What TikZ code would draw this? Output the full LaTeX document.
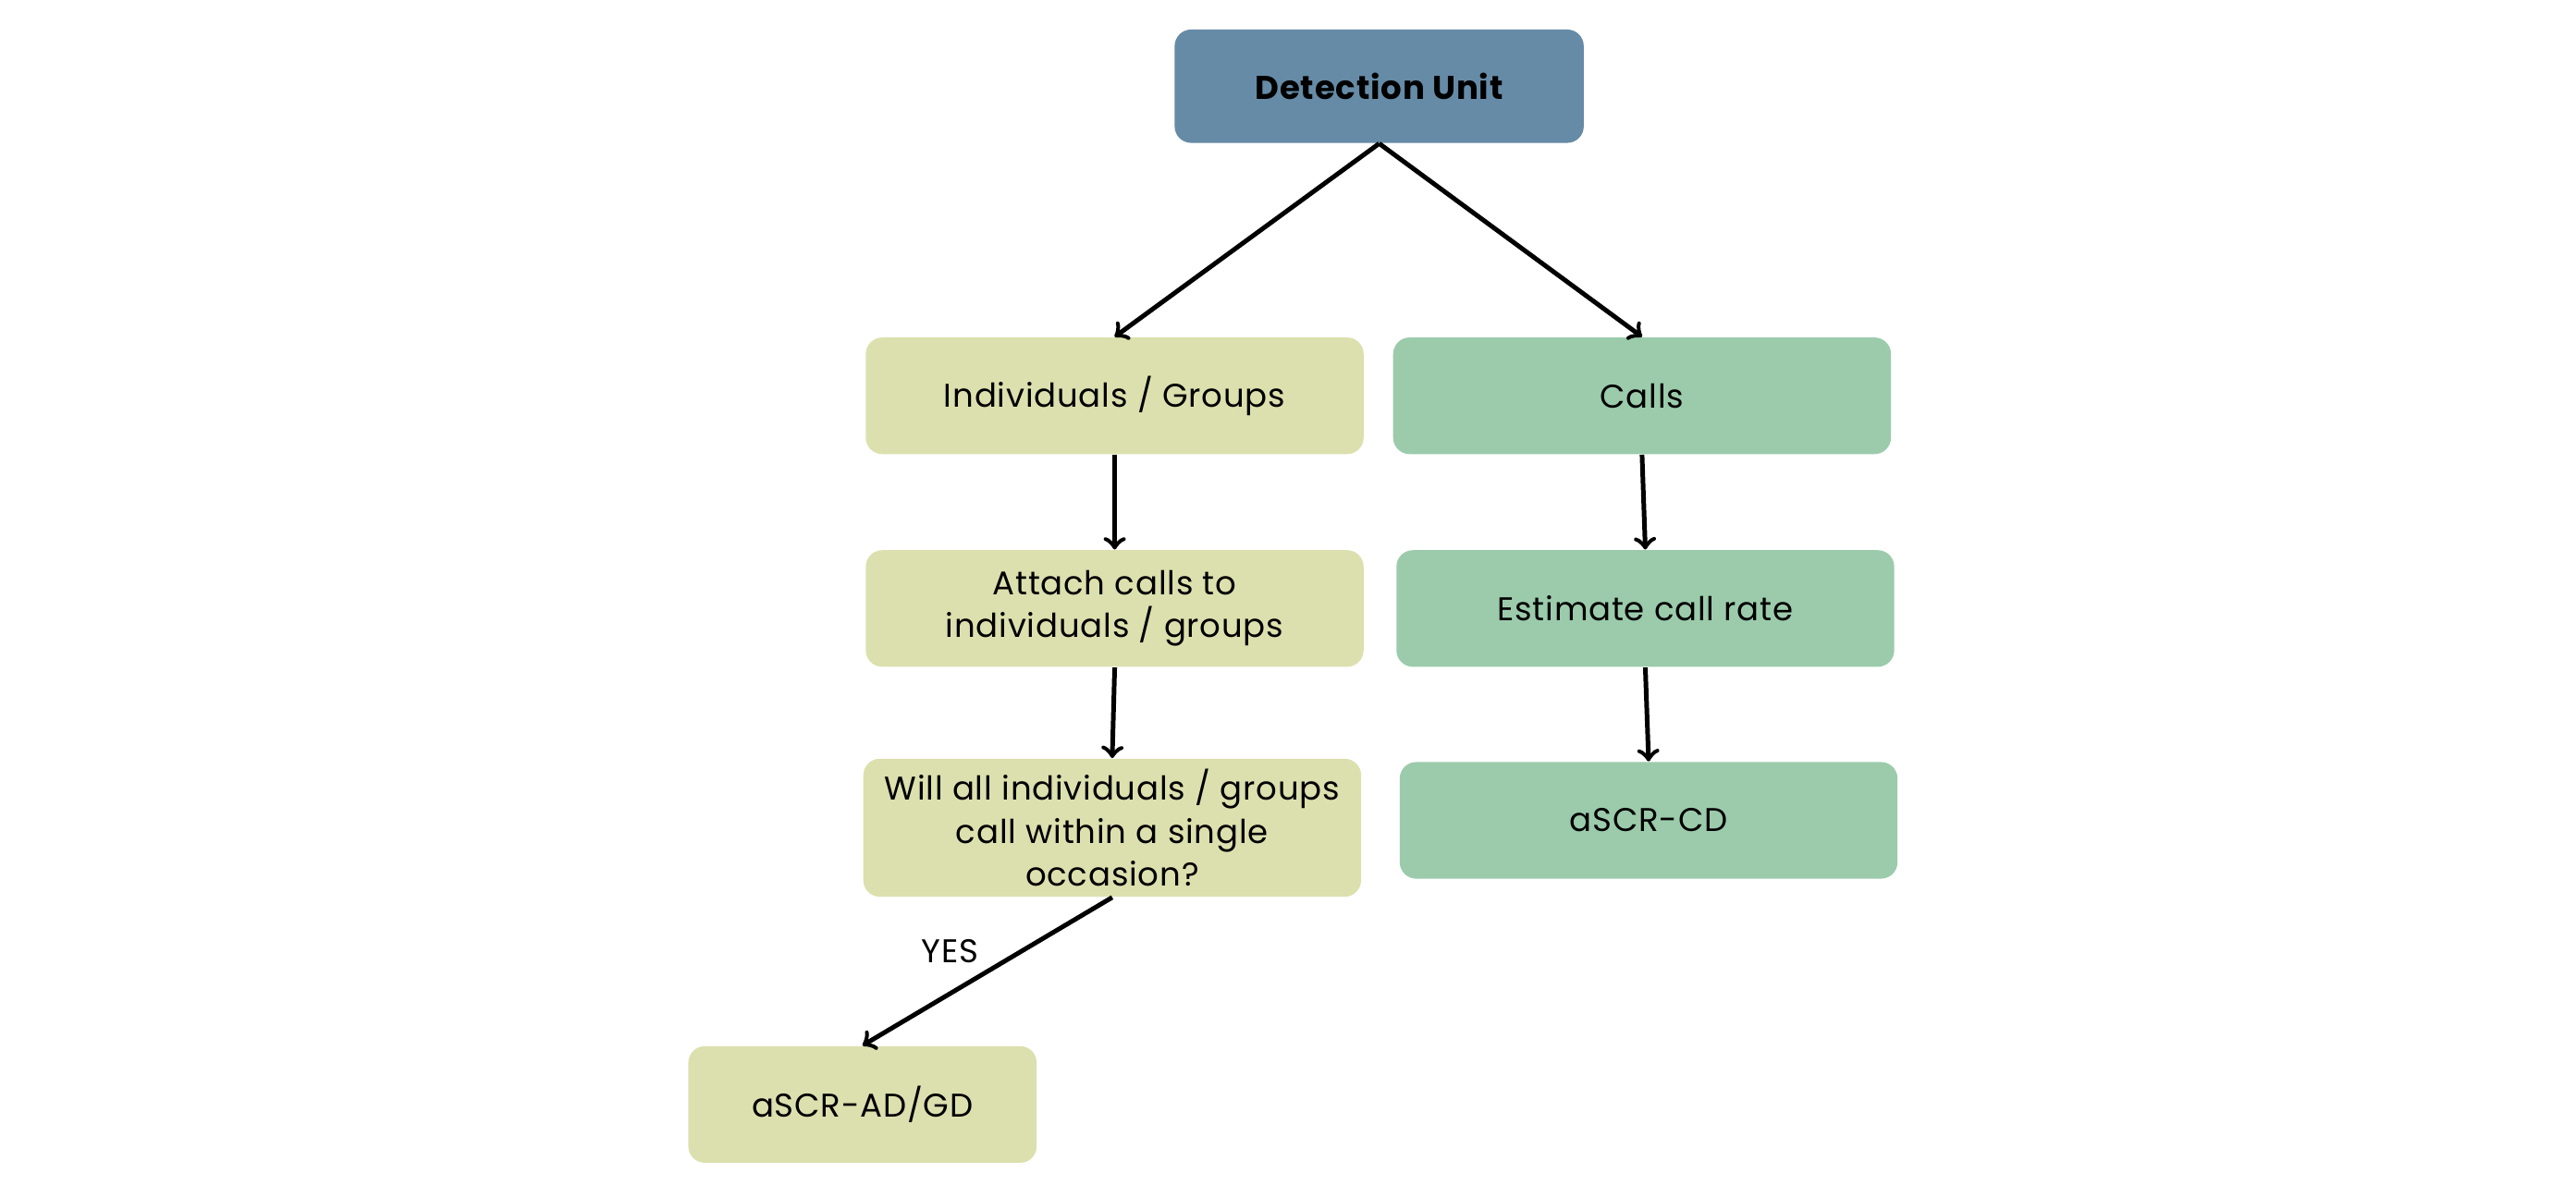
\documentclass[tikz,border=0pt]{standalone}
\usepackage{fontspec}
\setmainfont[LetterSpace=2.2]{Poppins}
\definecolor{unitblue}{RGB}{102,139,166}
\definecolor{indivyellow}{RGB}{220,224,174}
\definecolor{callgreen}{RGB}{155,203,171}
\begin{document}
\begin{tikzpicture}[x=0.5pt, y=-0.5pt,
    box/.style={rectangle, rounded corners=5pt, minimum width=151.5pt,
      minimum height=35.5pt, align=center, inner sep=2pt,
      font=\fontsize{10}{13}\selectfont},
    indiv/.style={box, fill=indivyellow},
    calls/.style={box, fill=callgreen},
    flow/.style={->, line width=1.4pt}]
    \useasboundingbox (0,0) rectangle (1568,721);
    \node (U) [box, fill=unitblue, minimum width=124.5pt, minimum height=34.5pt,
      font=\fontsize{10}{13}\selectfont\bfseries] at (839.5,52.5) {Detection Unit};
    \node (I) [indiv] at (678.5,241) {Individuals / Groups};
    \node (C) [calls] at (999.5,241) {Calls};
    \node (A) [indiv] at (678.5,370.5) {Attach calls to\\individuals / groups};
    \node (E) [calls] at (1001.5,370.5) {Estimate call rate};
    \node (W) [indiv, minimum height=42pt] at (677,504) {Will all individuals / groups\\call within a single\\occasion?};
    \node (CD) [calls] at (1003.5,499.5) {aSCR-CD};
    \node (AG) [indiv, minimum width=106pt] at (525,672.5) {aSCR-AD/GD};

    \draw[flow] (U.south) to (I.north);
    \draw[flow] (U.south) to (C.north);
    \draw[flow] (I.south) to (A.north);
    \draw[flow] (C.south) to (E.north);
    \draw[flow] (A.south) to (W.north);
    \draw[flow] (E.south) to (CD.north);
    \draw[flow] (W.south) to node[above left, inner sep=2pt,
      font=\fontsize{10}{13}\selectfont] {YES} (AG.north);
  \end{tikzpicture}
\end{document}
